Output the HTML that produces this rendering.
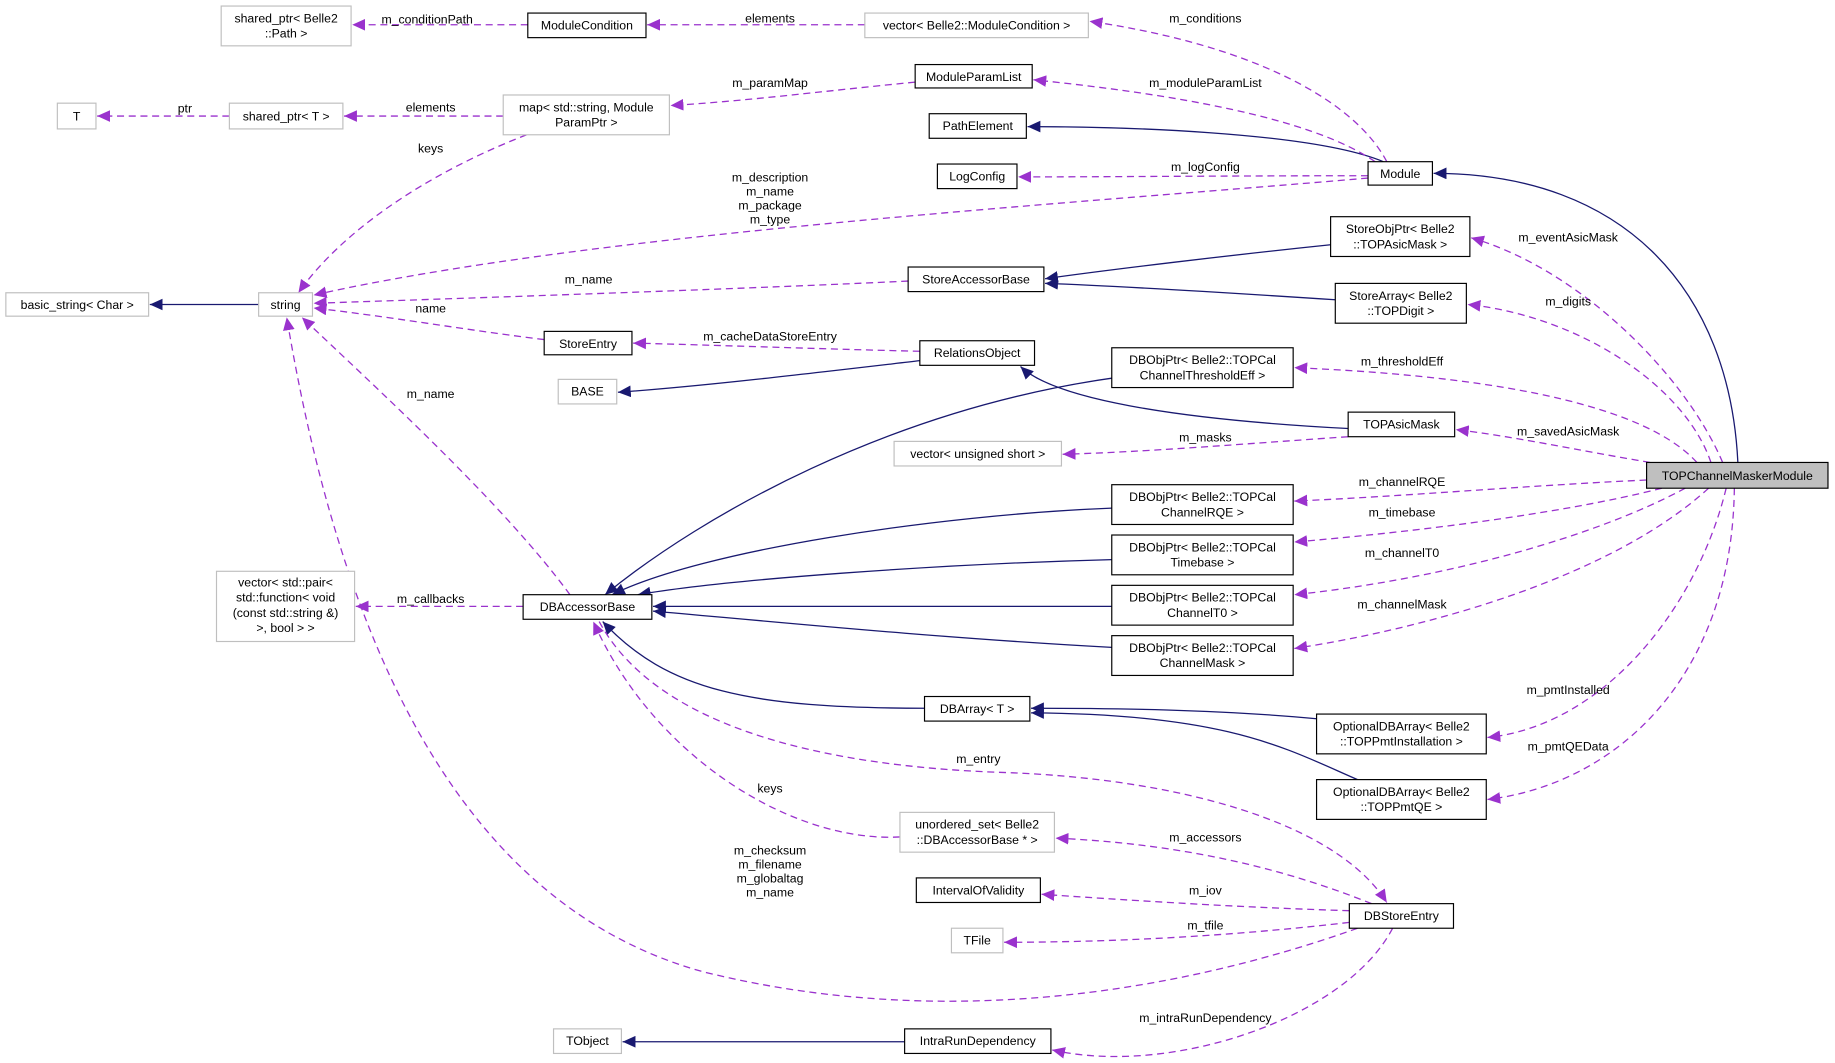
<!DOCTYPE html>
<html><head><meta charset="utf-8"><style>
html,body{margin:0;padding:0;background:#fff;}
svg{display:block;}
text{font-family:"Liberation Sans",sans-serif;font-size:10.5px;fill:#000;}
.g{fill:#fff;stroke:#bfbfbf;stroke-width:1;}
.b{fill:#fff;stroke:#000;stroke-width:1;}
.n{fill:none;stroke:#191970;stroke-width:1.1;}
.p{fill:none;stroke:#9a32cd;stroke-width:1.1;stroke-dasharray:6,4;}
</style></head><body>
<svg width="1835" height="1063" viewBox="0 0 1568 908" xmlns="http://www.w3.org/2000/svg">
<defs>
<marker id="an" markerWidth="12" markerHeight="10" refX="11" refY="5" orient="auto" markerUnits="userSpaceOnUse"><path d="M0,0 L11,5 L0,10 z" fill="#191970"/></marker>
<marker id="ap" markerWidth="12" markerHeight="10" refX="11" refY="5" orient="auto" markerUnits="userSpaceOnUse"><path d="M0,0 L11,5 L0,10 z" fill="#9a32cd"/></marker>
</defs>
<!-- navy edges -->
<g class="n" marker-end="url(#an)">
<path d="M1182,138 C1120,112 950,108 878,108"/>
<path d="M1485,395 C1478,250 1390,148 1225,148"/>
<path d="M1137,209 C1050,218 950,230 893,238"/>
<path d="M1141,256 C1050,250 950,244 893,242"/>
<path d="M221,260 L128,260"/>
<path d="M786,308 C700,318 600,330 528,335"/>
<path d="M1152,366 C1000,358 900,340 872,313"/>
<path d="M950,323 C760,350 600,440 517,508"/>
<path d="M950,434 C800,440 600,470 523,508"/>
<path d="M950,478 C800,482 620,495 545,508"/>
<path d="M950,518 L558,518"/>
<path d="M950,553 C800,545 650,530 558,522"/>
<path d="M790,605 C640,605 570,590 515,531"/>
<path d="M1125,614 C1040,606 950,605 881,605"/>
<path d="M1160,666 C1100,640 1050,610 881,609"/>
<path d="M773,890 L532,890"/>
</g>
<!-- purple edges -->
<g class="p" marker-end="url(#ap)">
<path d="M451,21 L301,21"/>
<path d="M739,21 L553,21"/>
<path d="M1185,138 C1160,90 1080,40 931,18"/>
<path d="M782,70 C700,78 640,86 573,90"/>
<path d="M1175,138 C1120,100 1000,80 883,68"/>
<path d="M196,99 L83,99"/>
<path d="M430,99 L294,99"/>
<path d="M450,115 C360,150 290,200 255,250"/>
<path d="M1169,150 C1050,150 950,151 870,151"/>
<path d="M1169,152 C900,175 500,200 268,252"/>
<path d="M776,240 C650,246 450,253 268,259"/>
<path d="M465,290 C400,282 330,270 268,263"/>
<path d="M786,300 C700,298 620,295 541,293"/>
<path d="M487,508 C430,430 320,330 258,271"/>
<path d="M1152,373 C1050,380 980,386 908,388"/>
<path d="M447,518 L304,518"/>
<path d="M1472,395 C1440,320 1350,230 1257,203"/>
<path d="M1462,395 C1440,330 1350,270 1254,260"/>
<path d="M1450,395 C1400,340 1250,320 1106,314"/>
<path d="M1410,395 C1350,385 1290,372 1244,367"/>
<path d="M1407,410 C1300,415 1200,424 1106,428"/>
<path d="M1420,417 C1330,440 1200,455 1106,463"/>
<path d="M1440,417 C1360,460 1230,495 1106,508"/>
<path d="M1460,417 C1380,490 1230,535 1106,554"/>
<path d="M1475,417 C1450,520 1370,620 1271,630"/>
<path d="M1482,417 C1480,580 1380,670 1271,683"/>
<path d="M769,715 C680,720 560,650 507,531"/>
<path d="M512,531 C560,620 700,655 860,660 C1000,665 1140,700 1185,771"/>
<path d="M1172,772 C1080,735 990,720 902,716"/>
<path d="M1153,778 C1050,775 950,768 890,764"/>
<path d="M1153,788 C1050,800 950,805 858,805"/>
<path d="M1160,793 C1000,850 800,880 600,830 C420,780 300,600 245,271"/>
<path d="M1190,793 C1150,870 1000,920 899,897"/>
</g>
<!-- labels -->
<g text-anchor="middle">
<text x="365" y="20">m_conditionPath</text>
<text x="658" y="19">elements</text>
<text x="1030" y="19">m_conditions</text>
<text x="658" y="74">m_paramMap</text>
<text x="1030" y="74">m_moduleParamList</text>
<text x="158" y="96">ptr</text>
<text x="368" y="95">elements</text>
<text x="368" y="130">keys</text>
<text x="1030" y="146">m_logConfig</text>
<text x="658" y="155">m_description</text>
<text x="658" y="167">m_name</text>
<text x="658" y="179">m_package</text>
<text x="658" y="191">m_type</text>
<text x="503" y="242">m_name</text>
<text x="368" y="267">name</text>
<text x="658" y="291">m_cacheDataStoreEntry</text>
<text x="368" y="340">m_name</text>
<text x="1030" y="377">m_masks</text>
<text x="368" y="515">m_callbacks</text>
<text x="1340" y="206">m_eventAsicMask</text>
<text x="1340" y="261">m_digits</text>
<text x="1198" y="312">m_thresholdEff</text>
<text x="1340" y="372">m_savedAsicMask</text>
<text x="1198" y="415">m_channelRQE</text>
<text x="1198" y="441">m_timebase</text>
<text x="1198" y="476">m_channelT0</text>
<text x="1198" y="520">m_channelMask</text>
<text x="1340" y="593">m_pmtInstalled</text>
<text x="1340" y="641">m_pmtQEData</text>
<text x="836" y="652">m_entry</text>
<text x="658" y="677">keys</text>
<text x="658" y="730">m_checksum</text>
<text x="658" y="742">m_filename</text>
<text x="658" y="754">m_globaltag</text>
<text x="658" y="766">m_name</text>
<text x="1030" y="719">m_accessors</text>
<text x="1030" y="764">m_iov</text>
<text x="1030" y="794">m_tfile</text>
<text x="1030" y="873">m_intraRunDependency</text>
</g>
<!-- nodes -->
<g text-anchor="middle">
<rect class="g" x="189" y="5" width="111" height="34"/><text x="244.5" y="19">shared_ptr&lt; Belle2</text><text x="244.5" y="32">::Path &gt;</text>
<rect class="b" x="451" y="11" width="101" height="21"/><text x="501.5" y="25">ModuleCondition</text>
<rect class="g" x="739" y="11" width="191" height="21"/><text x="834.5" y="25">vector&lt; Belle2::ModuleCondition &gt;</text>
<rect class="g" x="49" y="88" width="33" height="22"/><text x="65.5" y="103">T</text>
<rect class="g" x="196" y="88" width="97" height="22"/><text x="244.5" y="103">shared_ptr&lt; T &gt;</text>
<rect class="g" x="430" y="81" width="142" height="34"/><text x="501" y="95">map&lt; std::string, Module</text><text x="501" y="108">ParamPtr &gt;</text>
<rect class="b" x="782" y="55" width="100" height="20"/><text x="832" y="69">ModuleParamList</text>
<rect class="b" x="794" y="97" width="83" height="21"/><text x="835.5" y="111">PathElement</text>
<rect class="b" x="801" y="140" width="68" height="21"/><text x="835" y="154">LogConfig</text>
<rect class="b" x="1169" y="138" width="55" height="20"/><text x="1196.5" y="152">Module</text>
<rect class="b" x="1137" y="185" width="119" height="34"/><text x="1196.5" y="199">StoreObjPtr&lt; Belle2</text><text x="1196.5" y="212">::TOPAsicMask &gt;</text>
<rect class="b" x="776" y="228" width="116" height="21"/><text x="834" y="242">StoreAccessorBase</text>
<rect class="b" x="1141" y="242" width="112" height="34"/><text x="1197" y="256">StoreArray&lt; Belle2</text><text x="1197" y="269">::TOPDigit &gt;</text>
<rect class="g" x="5" y="250" width="122" height="20"/><text x="66" y="264">basic_string&lt; Char &gt;</text>
<rect class="g" x="221" y="250" width="46" height="20"/><text x="244" y="264">string</text>
<rect class="b" x="465" y="283" width="75" height="20"/><text x="502.5" y="297">StoreEntry</text>
<rect class="b" x="786" y="291" width="98" height="21"/><text x="835" y="305">RelationsObject</text>
<rect class="b" x="950" y="297" width="155" height="34"/><text x="1027.5" y="311">DBObjPtr&lt; Belle2::TOPCal</text><text x="1027.5" y="324">ChannelThresholdEff &gt;</text>
<rect class="g" x="477" y="324" width="50" height="21"/><text x="502" y="338">BASE</text>
<rect class="b" x="1152" y="352" width="91" height="21"/><text x="1197.5" y="366">TOPAsicMask</text>
<rect class="g" x="764" y="377" width="143" height="21"/><text x="835.5" y="391">vector&lt; unsigned short &gt;</text>
<rect x="1407" y="395" width="155" height="22" fill="#bfbfbf" stroke="#000"/><text x="1484.5" y="410">TOPChannelMaskerModule</text>
<rect class="b" x="950" y="414" width="155" height="34"/><text x="1027.5" y="428">DBObjPtr&lt; Belle2::TOPCal</text><text x="1027.5" y="441">ChannelRQE &gt;</text>
<rect class="b" x="950" y="457" width="155" height="34"/><text x="1027.5" y="471">DBObjPtr&lt; Belle2::TOPCal</text><text x="1027.5" y="484">Timebase &gt;</text>
<rect class="b" x="950" y="500" width="155" height="34"/><text x="1027.5" y="514">DBObjPtr&lt; Belle2::TOPCal</text><text x="1027.5" y="527">ChannelT0 &gt;</text>
<rect class="g" x="185" y="488" width="118" height="60"/><text x="244" y="501">vector&lt; std::pair&lt;</text><text x="244" y="514">std::function&lt; void</text><text x="244" y="527">(const std::string &amp;)</text><text x="244" y="540">&gt;, bool &gt; &gt;</text>
<rect class="b" x="447" y="508" width="110" height="21"/><text x="502" y="522">DBAccessorBase</text>
<rect class="b" x="950" y="543" width="155" height="34"/><text x="1027.5" y="557">DBObjPtr&lt; Belle2::TOPCal</text><text x="1027.5" y="570">ChannelMask &gt;</text>
<rect class="b" x="790" y="595" width="90" height="21"/><text x="835" y="609">DBArray&lt; T &gt;</text>
<rect class="b" x="1125" y="610" width="145" height="34"/><text x="1197.5" y="624">OptionalDBArray&lt; Belle2</text><text x="1197.5" y="637">::TOPPmtInstallation &gt;</text>
<rect class="b" x="1125" y="666" width="145" height="34"/><text x="1197.5" y="680">OptionalDBArray&lt; Belle2</text><text x="1197.5" y="693">::TOPPmtQE &gt;</text>
<rect class="g" x="769" y="694" width="132" height="34"/><text x="835" y="708">unordered_set&lt; Belle2</text><text x="835" y="721">::DBAccessorBase * &gt;</text>
<rect class="b" x="783" y="750" width="106" height="21"/><text x="836" y="764">IntervalOfValidity</text>
<rect class="b" x="1153" y="772" width="89" height="21"/><text x="1197.5" y="786">DBStoreEntry</text>
<rect class="g" x="813" y="793" width="44" height="21"/><text x="835" y="807">TFile</text>
<rect class="g" x="473" y="879" width="58" height="21"/><text x="502" y="893">TObject</text>
<rect class="b" x="773" y="879" width="125" height="21"/><text x="835.5" y="893">IntraRunDependency</text>
</g>
</svg>
</body></html>
